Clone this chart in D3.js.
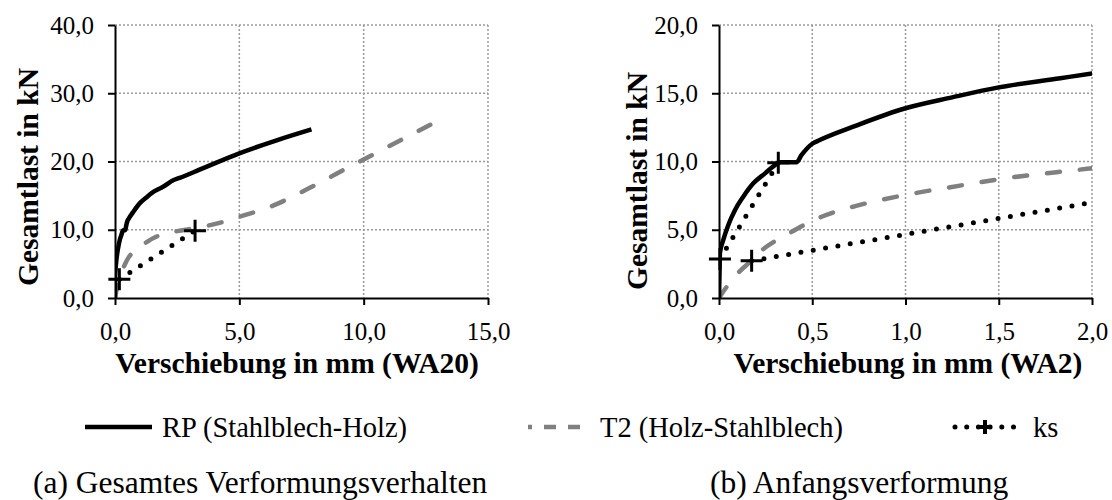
<!DOCTYPE html>
<html>
<head>
<meta charset="utf-8">
<script src="https://cdn.jsdelivr.net/npm/d3@7/dist/d3.min.js"></script>
<style>
  body { margin: 0; background: #fff; }
  text { font-family: "Liberation Serif", "Times New Roman", serif; }
</style>
</head>
<body>
<div id="chart"></div>
<script>
// load-displacement curves, [displacement mm, load kN]
var rp = [[0,0],[0.003,2],[0.005,3.3],[0.023,4.25],[0.05,5.35],[0.086,6.45],[0.13,7.42],
  [0.184,8.4],[0.247,9.13],[0.31,9.82],[0.33,9.94],[0.415,9.94],[0.443,10.48],[0.5,11.3],
  [0.54,11.57],[0.72,12.55],[1.0,13.9],[1.25,14.7],[1.5,15.43],[1.83,16.1],[2.0,16.45],
  [2.34,17.25],[2.6,17.6],[3.4,18.8],[5.0,21.2],[6.5,23.1],[7.9,24.7]];
var t2 = [[0,0],[0.04,0.8],[0.1,1.8],[0.175,2.75],[0.23,3.5],[0.31,4.25],[0.39,4.85],
  [0.47,5.45],[0.55,5.95],[0.75,6.8],[1.0,7.55],[1.3,8.25],[1.5,8.7],[1.9,9.35],[2.0,9.5],
  [2.5,9.8],[3.0,10.1],[3.6,10.5],[4.2,11.0],[5.0,11.9],[5.7,12.7],[6.4,13.6],[7.0,14.6],
  [7.7,15.9],[8.4,17.2],[9.0,18.4],[10.0,20.3],[11.0,22.2],[12.0,24.1],[12.95,25.9]];
// secant stiffness lines (ks)
var ksRP = [[0.005,2.86],[0.318,9.91]];
var ksT2 = [[0.175,2.73],[3.22,9.85]];

var leftXTicks = [0, 5, 10, 15];
var leftYTicks = [0, 10, 20, 30, 40];
var rightXTicks = [0, 0.5, 1, 1.5, 2];
var rightYTicks = [0, 5, 10, 15, 20];

var legendLabels = ["RP (Stahlblech-Holz)", "T2 (Holz-Stahlblech)", "ks"];
var xTitles = ["Verschiebung in mm (WA20)", "Verschiebung in mm (WA2)"];
var yTitle = "Gesamtlast in kN";
var captions = ["(a) Gesamtes Verformungsverhalten", "(b) Anfangsverformung"];

var serif = '"Liberation Serif", "Times New Roman", serif';

var svg = d3.select("#chart")
    .append("svg")
    .attr("width", 1112)
    .attr("height", 500)
    .attr("font-family", serif);

function fmt(d) {
    return d3.format(".1f")(d).replace(".", ",");
}

function panel(o) {
    var x = d3.scaleLinear().domain(d3.extent(o.xTicks)).range([o.left, o.right]);
    var y = d3.scaleLinear().domain(d3.extent(o.yTicks)).range([o.bottom, o.top]);
    var g = svg.append("g");

    g.append("clipPath").attr("id", o.id)
        .append("rect")
        .attr("x", o.left).attr("y", o.top - 3)
        .attr("width", o.right - o.left).attr("height", o.bottom - o.top + 3);

    // dotted grid
    g.selectAll("gy").data(o.yTicks.slice(1)).enter()
        .append("line")
        .attr("x1", o.left).attr("x2", o.right)
        .attr("y1", function(d){ return y(d); }).attr("y2", function(d){ return y(d); })
        .attr("stroke", "#9a9a9a").attr("stroke-width", 1.5).attr("stroke-dasharray", "2,2");
    g.selectAll("gx").data(o.xTicks.slice(1)).enter()
        .append("line")
        .attr("y1", o.top).attr("y2", o.bottom)
        .attr("x1", function(d){ return x(d); }).attr("x2", function(d){ return x(d); })
        .attr("stroke", "#9a9a9a").attr("stroke-width", 1.5).attr("stroke-dasharray", "2,2");

    var line = d3.line()
        .x(function(d){ return x(d[0]); })
        .y(function(d){ return y(d[1]); })
        .curve(d3.curveMonotoneX);
    var straight = d3.line()
        .x(function(d){ return x(d[0]); })
        .y(function(d){ return y(d[1]); });

    var plot = g.append("g").attr("clip-path", "url(#" + o.id + ")");
    o.ks.forEach(function(ks) {
        plot.append("path").attr("d", straight(ks))
            .attr("fill", "none").attr("stroke", "#000")
            .attr("stroke-width", 5).attr("stroke-linecap", "round")
            .attr("stroke-dasharray", "0,12.5");
    });
    plot.append("path").attr("d", line(t2))
        .attr("fill", "none").attr("stroke", "#808080")
        .attr("stroke-width", 4.5).attr("stroke-linecap", "round")
        .attr("stroke-dasharray", "13,20");
    plot.append("path").attr("d", line(rp))
        .attr("fill", "none").attr("stroke", "#000")
        .attr("stroke-width", 4.5).attr("stroke-linejoin", "round");

    // axes
    var ya = g.append("g").attr("transform", "translate(" + o.left + ",0)")
        .call(d3.axisLeft(y).tickValues(o.yTicks).tickSize(7).tickSizeOuter(0).tickPadding(14).tickFormat(fmt));
    var xa = g.append("g").attr("transform", "translate(0," + o.bottom + ")")
        .call(d3.axisBottom(x).tickValues(o.xTicks).tickSize(7).tickSizeOuter(0).tickPadding(17).tickFormat(fmt));
    [ya, xa].forEach(function(a) {
        a.attr("font-family", serif).attr("font-size", 25);
        a.select(".domain").attr("stroke", "#000").attr("stroke-width", 2);
        a.selectAll(".tick line").attr("stroke", "#000").attr("stroke-width", 2);
        a.selectAll(".tick text").attr("fill", "#000");
    });

    // plus markers at the ks end points, only inside the axis range
    var pts = [];
    o.ks.forEach(function(ks) { pts = pts.concat(ks); });
    pts = pts.filter(function(d) {
        return d[0] <= x.domain()[1] && d[1] <= y.domain()[1];
    });
    g.selectAll("plus").data(pts).enter()
        .append("path")
        .attr("transform", function(d){ return "translate(" + x(d[0]) + "," + y(d[1]) + ")"; })
        .attr("d", "M-11,0H11M0,-11V11")
        .attr("stroke", "#000").attr("stroke-width", 3);

    g.append("text")
        .attr("x", o.xTitleX).attr("y", 373)
        .attr("text-anchor", "middle")
        .attr("font-weight", "bold").attr("font-size", 29.5)
        .text(o.xTitle);
    g.append("text")
        .attr("transform", "translate(" + o.yTitleX + "," + o.yTitleY + ") rotate(-90)")
        .attr("text-anchor", "middle")
        .attr("font-weight", "bold").attr("font-size", 29.5)
        .text(yTitle);
    g.append("text")
        .attr("x", o.captionX).attr("y", 493)
        .attr("font-size", 31.5)
        .text(o.caption);
}

panel({ id: "clipA", left: 115, right: 488, top: 25, bottom: 298, ks: [ksT2],
        xTicks: leftXTicks, yTicks: leftYTicks, xTitle: xTitles[0], xTitleX: 297,
        yTitleX: 38, yTitleY: 177, caption: captions[0], captionX: 33 });
panel({ id: "clipB", left: 719, right: 1092, top: 25, bottom: 298, ks: [ksRP, ksT2],
        xTicks: rightXTicks, yTicks: rightYTicks, xTitle: xTitles[1], xTitleX: 908,
        yTitleX: 647, yTitleY: 181, caption: captions[1], captionX: 710 });

// legend
var lg = svg.append("g");
lg.append("line").attr("x1", 85).attr("x2", 152).attr("y1", 427).attr("y2", 427)
    .attr("stroke", "#000").attr("stroke-width", 4.5);
lg.append("line").attr("x1", 528).attr("x2", 592).attr("y1", 427).attr("y2", 427)
    .attr("stroke", "#808080").attr("stroke-width", 4.5).attr("stroke-dasharray", "4,12,12,12,12,12");
lg.append("line").attr("x1", 955).attr("x2", 1017).attr("y1", 427).attr("y2", 427)
    .attr("stroke", "#000").attr("stroke-width", 5).attr("stroke-linecap", "round")
    .attr("stroke-dasharray", "0,11.7");
lg.append("path").attr("d", "M978,427H992M985,420V434")
    .attr("stroke", "#000").attr("stroke-width", 4);
lg.selectAll("lt")
    .data(legendLabels)
    .enter()
    .append("text")
    .attr("x", function(d, i){ return [162, 600, 1033][i]; })
    .attr("y", 437)
    .attr("font-size", 28.5)
    .text(function(d){ return d; });
</script>
</body>
</html>
